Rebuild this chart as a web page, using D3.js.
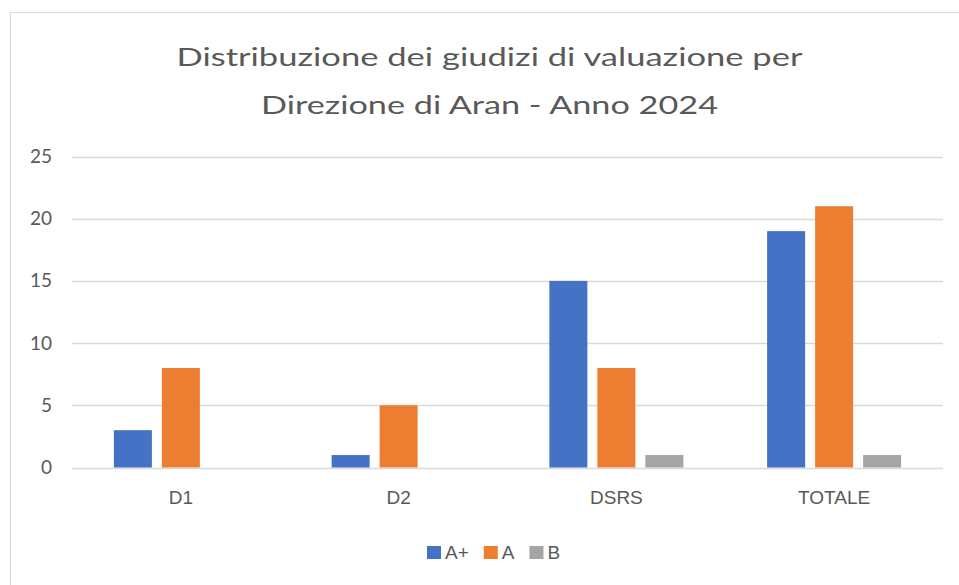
<!DOCTYPE html>
<html>
<head>
<meta charset="utf-8">
<script src="https://cdn.jsdelivr.net/npm/d3@7"></script>
<style>
  body { margin: 0; background: #fff; }
  svg { display: block; }
</style>
</head>
<body>
<svg id="chart" width="959" height="585"></svg>
<script>
// data
var categories = ["D1", "D2", "DSRS", "TOTALE"];
var series = ["A+", "A", "B"];
var valuesAplus = [3, 1, 15, 19];
var valuesA = [8, 5, 8, 21];
var valuesB = [0, 0, 1, 1];
var yTicks = [0, 5, 10, 15, 20, 25];
var titleLines = ["Distribuzione dei giudizi di valuazione per", "Direzione di Aran - Anno 2024"];

var colors = { "A+": "#4472C4", "A": "#ED7D31", "B": "#A5A5A5" };
var seriesValues = { "A+": valuesAplus, "A": valuesA, "B": valuesB };

var svg = d3.select("#chart");
var textColor = "#595959";

// chart border (right/bottom edges fall outside the picture)
svg.append("rect")
  .attr("x", 10.5).attr("y", 12.5)
  .attr("width", 970).attr("height", 600)
  .attr("fill", "#fff")
  .attr("stroke", "#d9d9d9");

// title - the original is a bit stretched sideways, so fit each line to its width
var titleWidths = [626, 457];
svg.append("g").selectAll("text")
  .data(titleLines)
  .join("text")
  .attr("x", 489.5)
  .attr("y", function(d, i) { return 66 + i * 48; })
  .attr("text-anchor", "middle")
  .attr("font-family", "Lato, 'Open Sans', sans-serif")
  .attr("font-size", 25)
  .attr("fill", textColor)
  .attr("textLength", function(d, i) { return titleWidths[i]; })
  .attr("lengthAdjust", "spacingAndGlyphs")
  .text(function(d) { return d; });

// scales
var plot = { left: 72, right: 943, top: 156.5, bottom: 467.5 };
var x = d3.scaleBand().domain(categories).range([plot.left, plot.right]);
var groupWidth = 134;
var xs = d3.scaleBand().domain(series).range([0, groupWidth]).paddingInner(10 / 48);
var y = d3.scaleLinear().domain([0, 25]).range([plot.bottom, plot.top]);

// gridlines
svg.append("g").selectAll("line")
  .data(yTicks)
  .join("line")
  .attr("x1", plot.left).attr("x2", plot.right)
  .attr("y1", function(d) { return Math.round(y(d)) + 0.5; })
  .attr("y2", function(d) { return Math.round(y(d)) + 0.5; })
  .attr("stroke", "#d9d9d9")
  .attr("stroke-width", 1.5);

// y axis labels
var yAxis = d3.axisLeft(y).tickValues(yTicks).tickSize(0).tickPadding(0);
var yg = svg.append("g")
  .attr("transform", "translate(52,0)")
  .call(yAxis);
yg.select(".domain").remove();
yg.selectAll("text")
  .attr("font-family", "Lato, sans-serif")
  .attr("font-size", 19)
  .attr("fill", textColor);

// bars
var groups = svg.append("g").selectAll("g")
  .data(categories)
  .join("g")
  .attr("transform", function(d) {
    return "translate(" + (x(d) + (x.bandwidth() - groupWidth) / 2) + ",0)";
  });

groups.selectAll("rect")
  .data(function(d, i) {
    return series.map(function(s) { return { key: s, value: seriesValues[s][i] }; });
  })
  .join("rect")
  .attr("x", function(d) { return xs(d.key); })
  .attr("width", xs.bandwidth())
  .attr("y", function(d) { return y(d.value); })
  .attr("height", function(d) { return y(0) - y(d.value); })
  .attr("fill", function(d) { return colors[d.key]; });

// x axis labels
var xAxis = d3.axisBottom(x).tickSize(0).tickPadding(0);
var xg = svg.append("g")
  .attr("transform", "translate(0,490)")
  .call(xAxis);
xg.select(".domain").remove();
xg.selectAll("text")
  .attr("font-family", "'Liberation Sans', Arial, sans-serif")
  .attr("font-size", 19)
  .attr("fill", textColor);

// legend
var legend = svg.append("g");
var lx = 427;
series.forEach(function(s) {
  legend.append("rect")
    .attr("x", lx).attr("y", 546)
    .attr("width", 14).attr("height", 13)
    .attr("fill", colors[s]);
  var t = legend.append("text")
    .attr("x", lx + 18).attr("y", 559)
    .attr("font-family", "'Liberation Sans', Arial, sans-serif")
    .attr("font-size", 19)
    .attr("fill", textColor)
    .text(s);
  lx += 18 + t.node().getComputedTextLength() + 15;
});
</script>
</body>
</html>
